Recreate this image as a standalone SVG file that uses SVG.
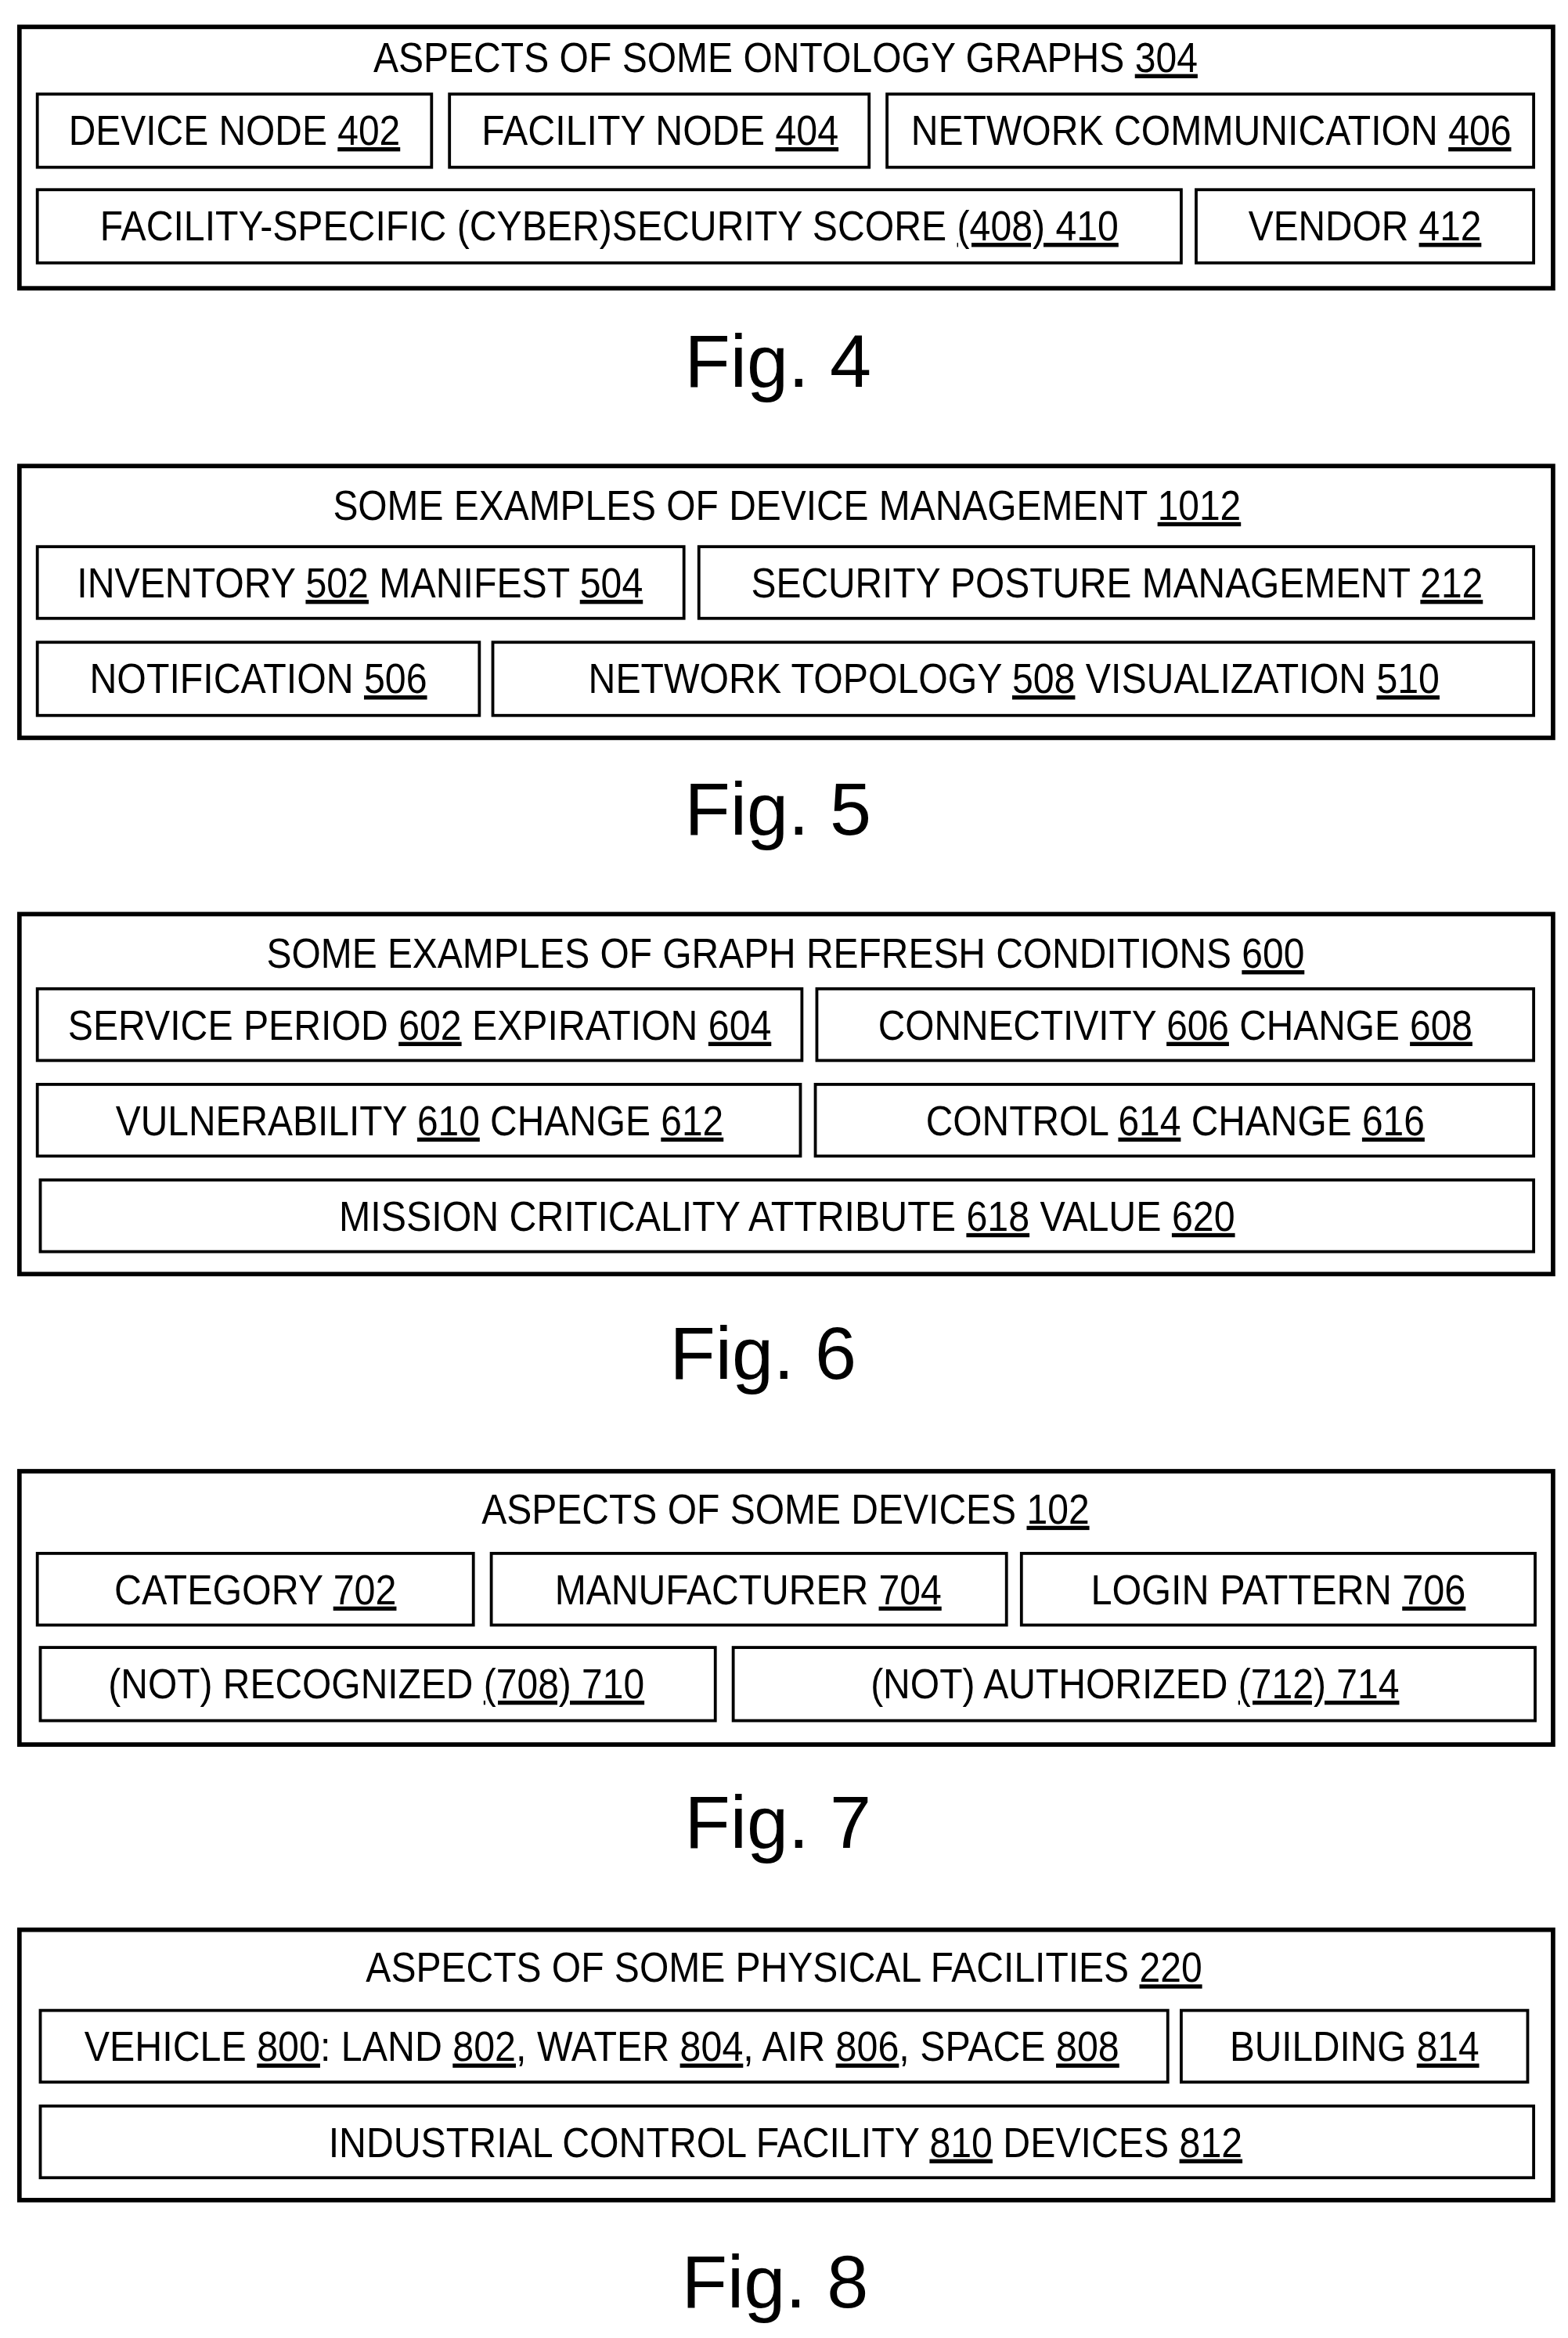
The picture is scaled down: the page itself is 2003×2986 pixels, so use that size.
<svg xmlns="http://www.w3.org/2000/svg" width="2003" height="2986" viewBox="0 0 2003 2986">
<style>
.o{fill:#fff;stroke:#000;stroke-width:3}
.b{fill:none;stroke:#000;stroke-width:2}
text{font-family:"Liberation Sans",Arial,sans-serif;font-size:28px;text-anchor:middle;fill:#000}
.f{font-size:50px}
.u{text-decoration:underline}
</style>
<rect width="2003" height="2986" fill="#fff"/>
<g transform="scale(1.9076)">
<g id="fig4">
<rect class="o" x="13" y="18" width="1027" height="175"/>
<text x="526" y="48" textLength="552" lengthAdjust="spacingAndGlyphs">ASPECTS OF SOME ONTOLOGY GRAPHS <tspan class="u">304</tspan></text>
<g id="n402"><rect class="b" x="25" y="63" width="264" height="49"/><text x="157" y="97" textLength="222" lengthAdjust="spacingAndGlyphs">DEVICE NODE <tspan class="u">402</tspan></text></g>
<g id="n404"><rect class="b" x="301" y="63" width="281" height="49"/><text x="442" y="97" textLength="239" lengthAdjust="spacingAndGlyphs">FACILITY NODE <tspan class="u">404</tspan></text></g>
<g id="n406"><rect class="b" x="594" y="63" width="433" height="49"/><text x="811" y="97" textLength="402" lengthAdjust="spacingAndGlyphs">NETWORK COMMUNICATION <tspan class="u">406</tspan></text></g>
<g id="n410"><rect class="b" x="25" y="127" width="766" height="49"/><text x="408" y="161" textLength="682" lengthAdjust="spacingAndGlyphs">FACILITY-SPECIFIC (CYBER)SECURITY SCORE <tspan class="u">(408) 410</tspan></text></g>
<g id="n412"><rect class="b" x="801" y="127" width="226" height="49"/><text x="914" y="161" textLength="156" lengthAdjust="spacingAndGlyphs">VENDOR <tspan class="u">412</tspan></text></g>
<text class="f" x="521" y="259">Fig. 4</text>
</g>
<g id="fig5">
<rect class="o" x="13" y="312" width="1027" height="182"/>
<text x="527" y="348" textLength="608" lengthAdjust="spacingAndGlyphs">SOME EXAMPLES OF DEVICE MANAGEMENT <tspan class="u">1012</tspan></text>
<g id="n502"><rect class="b" x="25" y="366" width="433" height="48"/><text x="241" y="400" textLength="379" lengthAdjust="spacingAndGlyphs">INVENTORY <tspan class="u">502</tspan> MANIFEST <tspan class="u">504</tspan></text></g>
<g id="n212"><rect class="b" x="468" y="366" width="559" height="48"/><text x="748" y="400" textLength="490" lengthAdjust="spacingAndGlyphs">SECURITY POSTURE MANAGEMENT <tspan class="u">212</tspan></text></g>
<g id="n506"><rect class="b" x="25" y="430" width="296" height="49"/><text x="173" y="464" textLength="226" lengthAdjust="spacingAndGlyphs">NOTIFICATION <tspan class="u">506</tspan></text></g>
<g id="n508"><rect class="b" x="330" y="430" width="697" height="49"/><text x="679" y="464" textLength="570" lengthAdjust="spacingAndGlyphs">NETWORK TOPOLOGY <tspan class="u">508</tspan> VISUALIZATION <tspan class="u">510</tspan></text></g>
<text class="f" x="521" y="559">Fig. 5</text>
</g>
<g id="fig6">
<rect class="o" x="13" y="612" width="1027" height="241"/>
<text x="526" y="648" textLength="695" lengthAdjust="spacingAndGlyphs">SOME EXAMPLES OF GRAPH REFRESH CONDITIONS <tspan class="u">600</tspan></text>
<g id="n602"><rect class="b" x="25" y="662" width="512" height="48"/><text x="281" y="696" textLength="471" lengthAdjust="spacingAndGlyphs">SERVICE PERIOD <tspan class="u">602</tspan> EXPIRATION <tspan class="u">604</tspan></text></g>
<g id="n606"><rect class="b" x="547" y="662" width="480" height="48"/><text x="787" y="696" textLength="398" lengthAdjust="spacingAndGlyphs">CONNECTIVITY <tspan class="u">606</tspan> CHANGE <tspan class="u">608</tspan></text></g>
<g id="n610"><rect class="b" x="25" y="726" width="511" height="48"/><text x="281" y="760" textLength="407" lengthAdjust="spacingAndGlyphs">VULNERABILITY <tspan class="u">610</tspan> CHANGE <tspan class="u">612</tspan></text></g>
<g id="n614"><rect class="b" x="546" y="726" width="481" height="48"/><text x="787" y="760" textLength="334" lengthAdjust="spacingAndGlyphs">CONTROL <tspan class="u">614</tspan> CHANGE <tspan class="u">616</tspan></text></g>
<g id="n618"><rect class="b" x="27" y="790" width="1000" height="48"/><text x="527" y="824" textLength="600" lengthAdjust="spacingAndGlyphs">MISSION CRITICALITY ATTRIBUTE <tspan class="u">618</tspan> VALUE <tspan class="u">620</tspan></text></g>
<text class="f" x="511" y="923">Fig. 6</text>
</g>
<g id="fig7">
<rect class="o" x="13" y="985" width="1027" height="183"/>
<text x="526" y="1020" textLength="407" lengthAdjust="spacingAndGlyphs">ASPECTS OF SOME DEVICES <tspan class="u">102</tspan></text>
<g id="n702"><rect class="b" x="25" y="1040" width="292" height="48"/><text x="171" y="1074" textLength="189" lengthAdjust="spacingAndGlyphs">CATEGORY <tspan class="u">702</tspan></text></g>
<g id="n704"><rect class="b" x="329" y="1040" width="345" height="48"/><text x="501" y="1074" textLength="259" lengthAdjust="spacingAndGlyphs">MANUFACTURER <tspan class="u">704</tspan></text></g>
<g id="n706"><rect class="b" x="684" y="1040" width="344" height="48"/><text x="856" y="1074" textLength="251" lengthAdjust="spacingAndGlyphs">LOGIN PATTERN <tspan class="u">706</tspan></text></g>
<g id="n710"><rect class="b" x="27" y="1103" width="452" height="49"/><text x="252" y="1137" textLength="359" lengthAdjust="spacingAndGlyphs">(NOT) RECOGNIZED <tspan class="u">(708) 710</tspan></text></g>
<g id="n714"><rect class="b" x="491" y="1103" width="537" height="49"/><text x="760" y="1137" textLength="354" lengthAdjust="spacingAndGlyphs">(NOT) AUTHORIZED <tspan class="u">(712) 714</tspan></text></g>
<text class="f" x="521" y="1237">Fig. 7</text>
</g>
<g id="fig8">
<rect class="o" x="13" y="1292" width="1027" height="181"/>
<text x="525" y="1327" textLength="560" lengthAdjust="spacingAndGlyphs">ASPECTS OF SOME PHYSICAL FACILITIES <tspan class="u">220</tspan></text>
<g id="n800"><rect class="b" x="27" y="1346" width="755" height="48"/><text x="403" y="1380" textLength="693" lengthAdjust="spacingAndGlyphs">VEHICLE <tspan class="u">800</tspan>: LAND <tspan class="u">802</tspan>, WATER <tspan class="u">804</tspan>, AIR <tspan class="u">806</tspan>, SPACE <tspan class="u">808</tspan></text></g>
<g id="n814"><rect class="b" x="791" y="1346" width="232" height="48"/><text x="907" y="1380" textLength="167" lengthAdjust="spacingAndGlyphs">BUILDING <tspan class="u">814</tspan></text></g>
<g id="n810"><rect class="b" x="27" y="1410" width="1000" height="48"/><text x="526" y="1444" textLength="612" lengthAdjust="spacingAndGlyphs">INDUSTRIAL CONTROL FACILITY <tspan class="u">810</tspan> DEVICES <tspan class="u">812</tspan></text></g>
<text class="f" x="519" y="1545">Fig. 8</text>
</g>
<g id="connectors"/>
</g>
</svg>
